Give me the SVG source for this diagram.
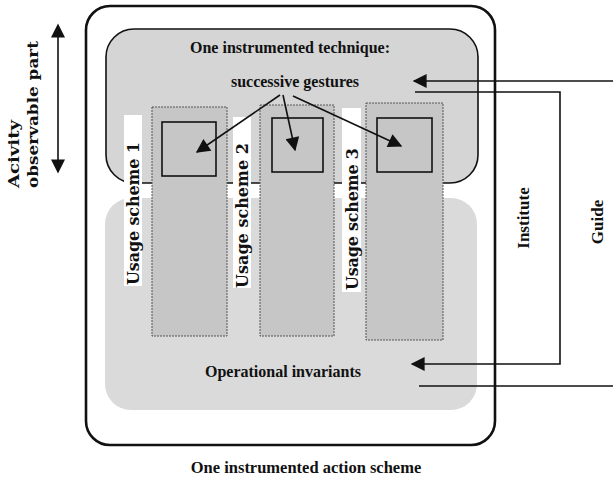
<svg xmlns="http://www.w3.org/2000/svg" width="613" height="484" viewBox="0 0 613 484">
<defs>
<style>
.t{font-family:"Liberation Serif","Times New Roman",serif;font-weight:bold;fill:#111}
.m{font-family:"DejaVu Serif","Liberation Serif",serif;font-weight:bold;fill:#111}
.col{fill:#c6c6c6;stroke:#555;stroke-width:1;stroke-dasharray:2 1}
.sq{fill:#c6c6c6;stroke:#111;stroke-width:1.6}
.ln{stroke:#111;stroke-width:1.6;fill:none}
.strip{fill:#fff}
</style>
<marker id="ahb" viewBox="0 0 10 10" refX="9" refY="5" markerWidth="20" markerHeight="14" markerUnits="userSpaceOnUse" orient="auto">
<path d="M0,0 L10,5 L0,10 z" fill="#111"/>
</marker>
<marker id="ahs" viewBox="0 0 10 10" refX="1" refY="5" markerWidth="20" markerHeight="14" markerUnits="userSpaceOnUse" orient="auto-start-reverse">
<path d="M0,0 L10,5 L0,10 z" fill="#111"/>
</marker>
</defs>
<rect width="613" height="484" fill="#fff"/>

<g id="action-scheme">
<rect x="86" y="6" width="409" height="439" rx="24" ry="24" fill="#fff" stroke="#111" stroke-width="2.6"/>
<text class="t" x="306" y="473" font-size="16.5" text-anchor="middle">One instrumented action scheme</text>
</g>

<g id="operational-invariants">
<rect x="105" y="198" width="372" height="212" rx="26" ry="26" fill="#dadada"/>
<text class="t" x="283" y="377" font-size="16" text-anchor="middle">Operational invariants</text>
</g>

<g id="instrumented-technique">
<rect x="106" y="29" width="372" height="154" rx="28" ry="28" fill="#d5d5d5" stroke="#111" stroke-width="1.6"/>
<text class="t" x="290" y="53" font-size="16" text-anchor="middle">One instrumented technique:</text>
<text class="t" x="295" y="87" font-size="16" text-anchor="middle">successive gestures</text>
</g>

<g id="usage-scheme-1">
<rect class="col" x="152" y="107" width="75" height="229"/>
<rect class="strip" x="124" y="115" width="18" height="171"/>
<text class="m" transform="translate(139,285) rotate(-90)" font-size="16" textLength="143" lengthAdjust="spacing">Usage scheme 1</text>
<rect class="sq" x="162" y="122" width="54" height="54"/>
</g>

<g id="usage-scheme-2">
<rect class="col" x="260" y="105" width="74" height="231"/>
<rect class="strip" x="233" y="117" width="18" height="171"/>
<text class="m" transform="translate(248,288) rotate(-90)" font-size="16" textLength="145" lengthAdjust="spacing">Usage scheme 2</text>
<rect class="sq" x="272" y="118" width="51" height="54"/>
</g>

<g id="usage-scheme-3">
<rect class="col" x="366" y="103" width="77" height="237"/>
<rect class="strip" x="342" y="108" width="19" height="184"/>
<text class="m" transform="translate(358,290) rotate(-90)" font-size="16" textLength="142" lengthAdjust="spacing">Usage scheme 3</text>
<rect class="sq" x="377" y="118" width="55" height="54"/>
</g>

<g id="activity-label">
<line class="ln" x1="58" y1="36" x2="58" y2="172" marker-start="url(#ahs)" marker-end="url(#ahb)"/>
<text class="m" transform="translate(19,188) rotate(-90)" font-size="14.5" textLength="68" lengthAdjust="spacingAndGlyphs">Acivity</text>
<text class="m" transform="translate(38,188) rotate(-90)" font-size="14.5" textLength="147" lengthAdjust="spacingAndGlyphs">observable part</text>
</g>

<g id="institute-label">
<text class="t" transform="translate(529,218) rotate(-90)" font-size="17" text-anchor="middle">Institute</text>
</g>

<g id="guide-label">
<text class="t" transform="translate(603,222) rotate(-90)" font-size="17" text-anchor="middle">Guide</text>
</g>

<g id="connectors">
<line class="ln" x1="280" y1="95" x2="197" y2="152" marker-end="url(#ahb)"/>
<line class="ln" x1="283" y1="95" x2="295" y2="150" marker-end="url(#ahb)"/>
<line class="ln" x1="293" y1="96" x2="401" y2="146" marker-end="url(#ahb)"/>
<line class="ln" x1="613" y1="81" x2="414" y2="81" marker-end="url(#ahb)"/>
<polyline class="ln" points="415,92 560,92 560,364 412,364" marker-end="url(#ahb)"/>
<line class="ln" x1="419" y1="386" x2="613" y2="386"/>
</g>
</svg>
